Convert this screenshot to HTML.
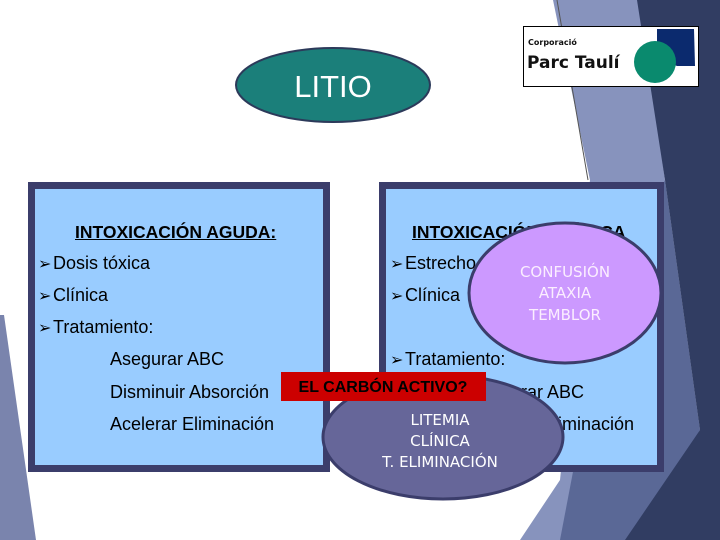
<!DOCTYPE html>
<html><head><meta charset="utf-8"><style>
body{margin:0;width:720px;height:540px;overflow:hidden;background:#fff;position:relative;font-family:"Liberation Sans",Arial,sans-serif}
.a{position:absolute;white-space:nowrap}
.box{position:absolute;background:#99ccff;border:7px solid #3b3d6b;box-sizing:border-box}
.t{position:absolute;font-size:18px;color:#000;white-space:nowrap;line-height:20px}
.h{font-weight:bold;text-decoration:underline;font-size:17.5px}
.b{display:inline-block;width:15px;font-size:16px;font-weight:bold;font-family:"DejaVu Sans",sans-serif}
</style></head><body>
<svg class="a" style="left:0;top:0" width="720" height="540">
<polygon points="553,0 640,0 665,180 700,430 625,540 520,540 560,480 590,180" fill="#8793bd"/>
<polygon points="600,330 665,180 700,430 640,540 560,540" fill="#5a6896"/>
<polygon points="637,0 720,0 720,540 625,540 700,430 665,180" fill="#313d62"/>
<line x1="557" y1="0" x2="588" y2="180" stroke="#555" stroke-width="1"/>
<polygon points="0,315 4,315 36,540 0,540" fill="#7a84ad"/>
</svg>
<div class="box" style="left:28px;top:182px;width:302px;height:290px"></div>
<div class="box" style="left:379px;top:182px;width:285px;height:290px"></div>
<div class="t h" style="left:75px;top:222px">INTOXICACIÓN AGUDA:</div>
<div class="t" style="left:38px;top:253px"><span class="b">➢</span>Dosis tóxica</div>
<div class="t" style="left:38px;top:285px"><span class="b">➢</span>Clínica</div>
<div class="t" style="left:38px;top:317px"><span class="b">➢</span>Tratamiento:</div>
<div class="t" style="left:110px;top:349px">Asegurar ABC</div>
<div class="t" style="left:110px;top:382px">Disminuir Absorción</div>
<div class="t" style="left:110px;top:414px">Acelerar Eliminación</div>
<div class="t h" style="left:412px;top:222px">INTOXICACIÓN CRÓNICA</div>
<div class="t" style="left:390px;top:253px"><span class="b">➢</span>Estrecho</div>
<div class="t" style="left:390px;top:285px"><span class="b">➢</span>Clínica</div>
<div class="t" style="left:390px;top:349px"><span class="b">➢</span>Tratamiento:</div>
<div class="t" style="left:470px;top:382px">Asegurar ABC</div>
<div class="t" style="left:470px;top:414px">Acelerar Eliminación</div>
<svg class="a" style="left:0;top:0" width="720" height="540">
<ellipse cx="333" cy="85" rx="97" ry="37" fill="#1b7f7a" stroke="#2c3a5a" stroke-width="2"/>
<text x="333" y="97" font-size="31" fill="#fff" text-anchor="middle" font-family="Liberation Sans">LITIO</text>
<ellipse cx="565" cy="293" rx="96" ry="70" fill="#cc99ff" stroke="#3b3d6b" stroke-width="3"/>
<g font-family="DejaVu Sans" font-size="15" fill="#fbeeff" text-anchor="middle">
<text x="565" y="277">CONFUSIÓN</text><text x="565" y="298">ATAXIA</text><text x="565" y="320">TEMBLOR</text></g>
<ellipse cx="443" cy="437" rx="120" ry="62" fill="#666699" stroke="#3b3d6b" stroke-width="3"/>
<g font-family="DejaVu Sans" font-size="15" fill="#fff" text-anchor="middle">
<text x="440" y="425">LITEMIA</text><text x="440" y="446">CLÍNICA</text><text x="440" y="467">T. ELIMINACIÓN</text></g>
<rect x="281" y="372" width="205" height="29" fill="#cc0000"/>
<text x="383" y="392" font-family="Liberation Sans" font-weight="bold" font-size="16" text-anchor="middle">EL CARBÓN ACTIVO?</text>
<rect x="523.5" y="26.5" width="175" height="60" fill="#fff" stroke="#000" stroke-width="1"/>
<text x="528" y="45" font-family="DejaVu Sans" font-weight="bold" font-size="8" fill="#111">Corporació</text>
<text x="527" y="68" font-family="DejaVu Sans" font-weight="bold" font-size="17" fill="#111">Parc Taulí</text>
<path d="M657,29 L694,29 L695,66 L677,66 L657,58 Z" fill="#0b2a6e"/>
<circle cx="655" cy="62" r="21" fill="#0a8a6e"/>
</svg>
</body></html>
